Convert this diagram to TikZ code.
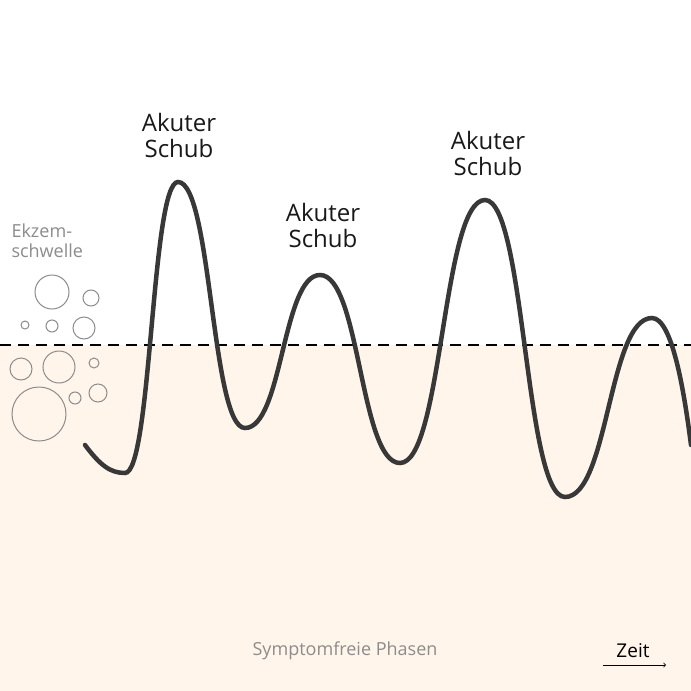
\documentclass[tikz,border=0pt]{standalone}
\usepackage{fontspec}
\setmainfont{Open Sans}
\begin{document}
\begin{tikzpicture}[x=1pt,y=-1pt,
  lbl/.style={font=\fontsize{24}{26}\selectfont, align=center, text=black!90},
  gr/.style={font=\fontsize{18}{20}\selectfont, text=black!45},
  bub/.style={draw=black!45, line width=1pt}]
\useasboundingbox (0,0) rectangle (691,691);
\fill[white] (0,0) rectangle (691,345);
\fill[orange!8!white] (0,345) rectangle (691,691);
\draw[dash pattern=on 11pt off 7pt, line width=1.5pt] (0,345) -- (691,345);
\draw[line width=4.5pt, black!78, line cap=round]
 (85,445) .. controls (100,465) and (110,473) .. (125,473)
 .. controls (151.5,473) and (151.5,182) .. (178,182)
 .. controls (211.5,182) and (211.5,428) .. (245,428)
 .. controls (282.5,428) and (282.5,275) .. (320,275)
 .. controls (360,275) and (360,463) .. (400,463)
 .. controls (442.5,463) and (442.5,200) .. (485,200)
 .. controls (525,200) and (525,497) .. (565,497)
 .. controls (608.5,497) and (608.5,318) .. (652,318)
 .. controls (672,318) and (684,390) .. (691,445);
\node[lbl] (a1) at (179,135) {Akuter\\Schub};
\node[lbl] (a2) at (323,225) {Akuter\\Schub};
\node[lbl] (a3) at (488,153) {Akuter\\Schub};
\node[gr, align=left, anchor=west] (ek) at (8,241) {Ekzem-\\schwelle};
\node[gr] (sp) at (345,651) {Symptomfreie Phasen};
\node[font=\fontsize{19}{20}\selectfont] (z) at (633,651) {Zeit};
\coordinate (z1) at (603,665); \coordinate (z2) at (666,665);
\draw[->, line width=0.8pt] (z1) -- (z2);
\foreach \x/\y/\r in {52/292/17,91/298/8,84/328/11,52/326/6,25/325/4,59/367/16,21/369/11,94/363/5,39/414/27,75/398/6,98/393/9}
  \draw[bub] (\x,\y) circle (\r);
\end{tikzpicture}
\end{document}
